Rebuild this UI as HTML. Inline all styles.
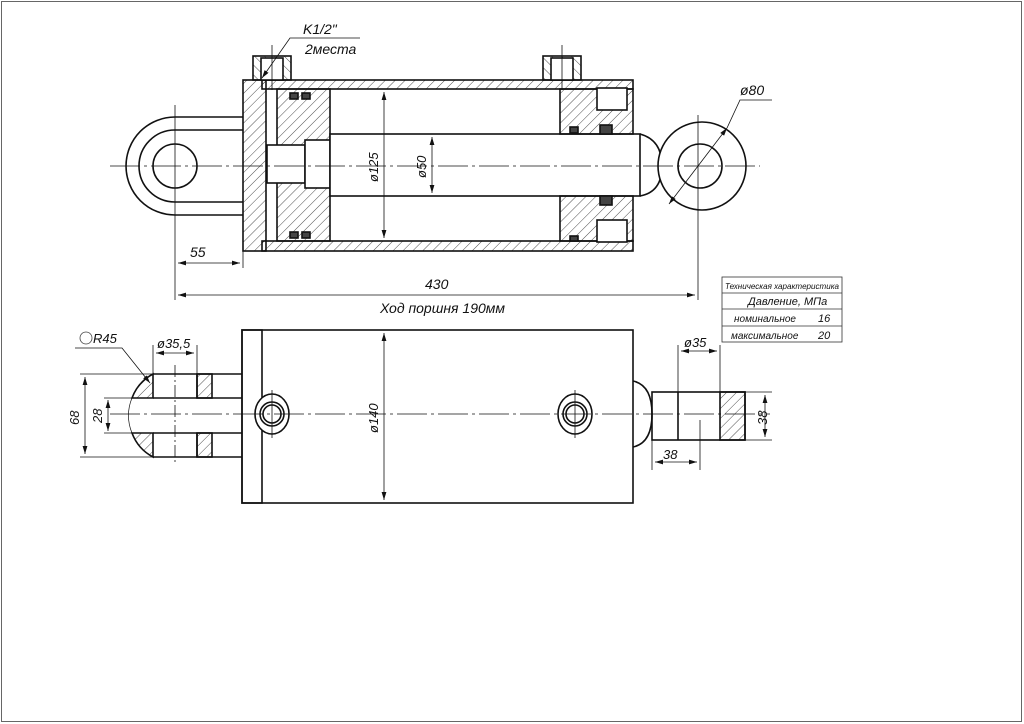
<!DOCTYPE html>
<html><head><meta charset="utf-8"><style>
html,body{margin:0;padding:0;background:#fff}
svg{display:block}
text{font-family:"Liberation Sans",sans-serif;font-style:italic;fill:#111}
</style></head><body>
<svg width="1024" height="724" viewBox="0 0 1024 724" xmlns="http://www.w3.org/2000/svg">
<defs>
<pattern id="h" width="7" height="7" patternUnits="userSpaceOnUse" patternTransform="rotate(45)"><line x1="0" y1="0" x2="0" y2="7" stroke="#222" stroke-width="0.8"/></pattern>
<pattern id="h2" width="7" height="7" patternUnits="userSpaceOnUse" patternTransform="rotate(-45)"><line x1="0" y1="0" x2="0" y2="7" stroke="#222" stroke-width="0.8"/></pattern>
<marker id="a" viewBox="0 0 10 6" refX="10" refY="3" markerWidth="10" markerHeight="6" orient="auto-start-reverse"><path d="M0,0L10,3L0,6z" fill="#111"/></marker>
</defs>
<rect x="1.5" y="1.5" width="1020" height="720" fill="none" stroke="#666" stroke-width="1"/>
<g stroke="#111" fill="none" stroke-width="1.6">
<path d="M243,117 H175 A49,49 0 0 0 175,215 H243"/>
<path d="M243,130 H175 A36,36 0 0 0 175,202 H243"/>
<circle cx="175" cy="166" r="22"/>
<rect x="243" y="80" width="23" height="171" fill="url(#h)"/>
<rect x="262" y="80" width="371" height="9" fill="url(#h)"/>
<rect x="262" y="241" width="371" height="10" fill="url(#h)"/>
<rect x="253" y="56" width="38" height="24" fill="url(#h2)"/>
<rect x="261" y="58" width="22" height="22" fill="#fff"/>
<rect x="543" y="56" width="38" height="24" fill="url(#h2)"/>
<rect x="551" y="58" width="22" height="22" fill="#fff"/>
<rect x="277" y="89" width="53" height="152" fill="url(#h)"/>
<rect x="267" y="145" width="38" height="38" fill="#fff"/>
<rect x="305" y="140" width="25" height="48" fill="#fff"/>
<rect x="290" y="93" width="8" height="6" fill="#444"/>
<rect x="302" y="93" width="8" height="6" fill="#444"/>
<rect x="290" y="232" width="8" height="6" fill="#444"/>
<rect x="302" y="232" width="8" height="6" fill="#444"/>
<rect x="330" y="134" width="310" height="62" fill="#fff"/>
<rect x="560" y="89" width="73" height="45" fill="url(#h)"/>
<rect x="560" y="196" width="73" height="45" fill="url(#h)"/>
<rect x="597" y="88" width="30" height="22" fill="#fff"/>
<rect x="597" y="220" width="30" height="22" fill="#fff"/>
<rect x="600" y="125" width="12" height="9" fill="#444"/>
<rect x="600" y="196" width="12" height="9" fill="#444"/>
<rect x="570" y="127" width="8" height="6" fill="#444"/>
<rect x="570" y="236" width="8" height="5" fill="#444"/>
<path d="M640,134 Q662,140 662,166 Q662,192 640,196"/>
<circle cx="702" cy="166" r="44" fill="#fff"/>
<circle cx="700" cy="166" r="22"/>
</g>
<g stroke="#111" stroke-width="0.8" fill="none">
<line x1="110" y1="166" x2="760" y2="166" stroke-dasharray="30,4,3,4"/>
<line x1="175" y1="105" x2="175" y2="300"/>
<line x1="243" y1="251" x2="243" y2="268"/>
<line x1="698" y1="115" x2="698" y2="300"/>
<line x1="272" y1="45" x2="272" y2="90"/><line x1="562" y1="45" x2="562" y2="90"/>
<line x1="178" y1="263" x2="240" y2="263" marker-start="url(#a)" marker-end="url(#a)"/>
<line x1="178" y1="295" x2="695" y2="295" marker-start="url(#a)" marker-end="url(#a)"/>
<line x1="384" y1="92" x2="384" y2="238" marker-start="url(#a)" marker-end="url(#a)"/>
<line x1="432" y1="137" x2="432" y2="193" marker-start="url(#a)" marker-end="url(#a)"/>
<line x1="669" y1="204" x2="727" y2="128" marker-start="url(#a)" marker-end="url(#a)"/>
<polyline points="727,128 740,100 772,100"/>
<polyline points="262,78 290,38 360,38" marker-start="url(#a)"/>
</g>
<text x="190" y="257" font-size="14">55</text>
<text x="425" y="289" font-size="14">430</text>
<text x="380" y="313" font-size="14">Ход поршня 190мм</text>
<text x="303" y="34" font-size="14">K1/2"</text>
<text x="305" y="54" font-size="14">2места</text>
<text x="740" y="95" font-size="14">ø80</text>
<text font-size="13" transform="translate(378,182) rotate(-90)">ø125</text>
<text font-size="13" transform="translate(426,178) rotate(-90)">ø50</text>
<g stroke="#333" stroke-width="0.8" fill="none">
<rect x="722" y="277" width="120" height="65"/>
<line x1="722" y1="293" x2="842" y2="293"/><line x1="722" y1="309" x2="842" y2="309"/><line x1="722" y1="326" x2="842" y2="326"/>
</g>
<text x="725" y="289" font-size="8.6" textLength="114" lengthAdjust="spacingAndGlyphs">Техническая характеристика</text>
<text x="748" y="305" font-size="11">Давление, МПа</text>
<text x="734" y="322" font-size="10">номинальное</text><text x="818" y="322" font-size="11">16</text>
<text x="731" y="339" font-size="10">максимальное</text><text x="818" y="339" font-size="11">20</text>
<g stroke="#111" fill="none" stroke-width="1.6">
<rect x="242" y="330" width="391" height="173"/>
<rect x="242" y="330" width="20" height="173"/>
<path d="M153,374 H242 M153,398 H242 M153,433 H242 M153,457 H242"/>
<path d="M153,374 A45,45 0 0 0 132,398 H153 Z" fill="url(#h)"/>
<path d="M153,457 A45,45 0 0 1 132,433 H153 Z" fill="url(#h)"/>
<rect x="197" y="374" width="15" height="24" fill="url(#h)"/>
<rect x="197" y="433" width="15" height="24" fill="url(#h)"/>
<line x1="197" y1="374" x2="197" y2="398"/><line x1="197" y1="433" x2="197" y2="457"/>
<ellipse cx="272" cy="414" rx="17" ry="20" fill="#fff"/><circle cx="272" cy="414" r="12"/><circle cx="272" cy="414" r="9"/>
<ellipse cx="575" cy="414" rx="17" ry="20" fill="#fff"/><circle cx="575" cy="414" r="12"/><circle cx="575" cy="414" r="9"/>
<path d="M633,381 Q652,385 652,414 Q652,443 633,447"/>
<rect x="652" y="392" width="93" height="48"/>
<rect x="720" y="392" width="25" height="48" fill="url(#h)"/>
<line x1="678" y1="392" x2="678" y2="440"/>
</g>
<g stroke="#111" stroke-width="0.8" fill="none">
<line x1="110" y1="414" x2="770" y2="414" stroke-dasharray="30,4,3,4"/>
<path d="M132,398 A45,45 0 0 0 132,433" stroke-width="0.7"/>
<line x1="175" y1="365" x2="175" y2="465" stroke-dasharray="12,3,2,3"/>
<line x1="80" y1="374" x2="153" y2="374"/><line x1="80" y1="457" x2="153" y2="457"/>
<line x1="85" y1="377" x2="85" y2="454" marker-start="url(#a)" marker-end="url(#a)"/>
<line x1="104" y1="398" x2="132" y2="398"/><line x1="104" y1="433" x2="132" y2="433"/>
<line x1="108" y1="400" x2="108" y2="431" marker-start="url(#a)" marker-end="url(#a)"/>
<line x1="153" y1="345" x2="153" y2="374"/><line x1="197" y1="345" x2="197" y2="374"/>
<line x1="156" y1="353" x2="194" y2="353" marker-start="url(#a)" marker-end="url(#a)"/>
<polyline points="75,348 122,348 150,383" marker-end="url(#a)"/>
<line x1="384" y1="333" x2="384" y2="500" marker-start="url(#a)" marker-end="url(#a)"/>
<line x1="678" y1="345" x2="678" y2="392"/><line x1="720" y1="345" x2="720" y2="392"/>
<line x1="681" y1="351" x2="717" y2="351" marker-start="url(#a)" marker-end="url(#a)"/>
<line x1="745" y1="392" x2="772" y2="392"/><line x1="745" y1="440" x2="772" y2="440"/>
<line x1="765" y1="395" x2="765" y2="437" marker-start="url(#a)" marker-end="url(#a)"/>
<line x1="652" y1="440" x2="652" y2="470"/><line x1="700" y1="420" x2="700" y2="470"/>
<line x1="655" y1="462" x2="697" y2="462" marker-start="url(#a)" marker-end="url(#a)"/>
<line x1="575" y1="390" x2="575" y2="438"/><line x1="272" y1="390" x2="272" y2="438"/>
</g>
<circle cx="86" cy="338" r="6" fill="none" stroke="#444" stroke-width="0.8"/>
<text x="93" y="343" font-size="13">R45</text>
<text x="157" y="348" font-size="13">ø35,5</text>
<text x="684" y="347" font-size="13">ø35</text>
<text x="663" y="459" font-size="13">38</text>
<text font-size="13" transform="translate(79,425) rotate(-90)">68</text>
<text font-size="13" transform="translate(102,423) rotate(-90)">28</text>
<text font-size="13" transform="translate(378,433) rotate(-90)">ø140</text>
<text font-size="13" transform="translate(767,425) rotate(-90)">38</text>
</svg>
</body></html>
